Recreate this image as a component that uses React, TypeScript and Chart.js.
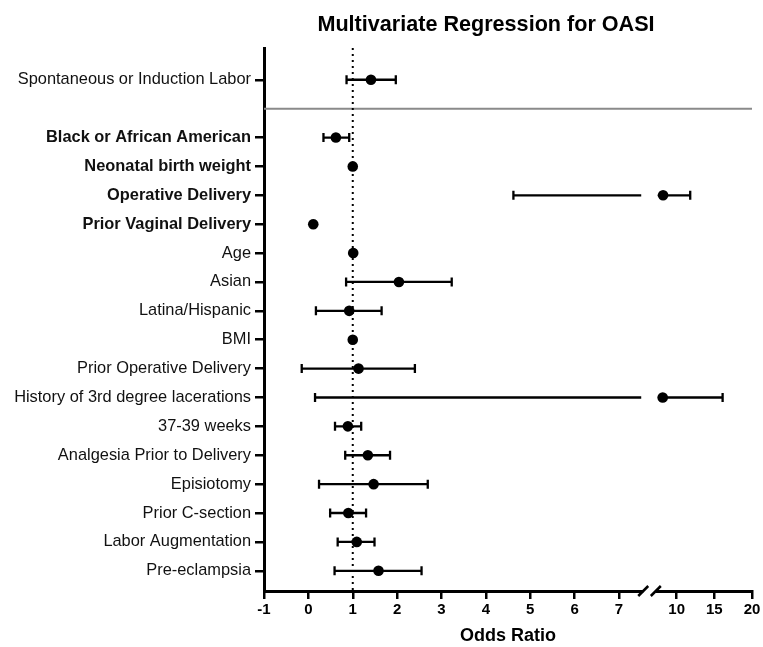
import React, { useEffect, useRef } from 'react';
import { Chart, registerables, LinearScale } from 'chart.js';

Chart.register(...registerables);

const FONT = "'Liberation Sans', Arial, Helvetica, sans-serif";

// ---------- data ----------
const ROW_LABELS = [
  'Spontaneous or Induction Labor',
  'Black or African American',
  'Neonatal birth weight',
  'Operative Delivery',
  'Prior Vaginal Delivery',
  'Age',
  'Asian',
  'Latina/Hispanic',
  'BMI',
  'Prior Operative Delivery',
  'History of 3rd degree lacerations',
  '37-39 weeks',
  'Analgesia Prior to Delivery',
  'Episiotomy',
  'Prior C-section',
  'Labor Augmentation',
  'Pre-eclampsia',
];
const ROW_POS = [0, 2, 3, 4, 5, 6, 7, 8, 9, 10, 11, 12, 13, 14, 15, 16, 17];
const BOLD_LABELS = [
  'Black or African American',
  'Neonatal birth weight',
  'Operative Delivery',
  'Prior Vaginal Delivery',
];
const ODDS_RATIO = [1.41, 0.62, 1.0, 8.2, 0.11, 1.01, 2.04, 0.92, 1.0, 1.13, 8.15, 0.89, 1.34, 1.47, 0.9, 1.09, 1.58];
const CI_LOWER = [0.86, 0.34, 0.98, 4.62, 0.08, 0.99, 0.85, 0.17, 0.98, -0.15, 0.15, 0.6, 0.83, 0.24, 0.49, 0.66, 0.59];
const CI_UPPER = [1.97, 0.92, 1.02, 11.8, 0.14, 1.03, 3.23, 1.65, 1.02, 2.4, 16.1, 1.19, 1.84, 2.69, 1.3, 1.49, 2.55];
const X_TICKS = [-1, 0, 1, 2, 3, 4, 5, 6, 7, 10, 15, 20];
const X_MIN = -1;
const X_MAX = 20;
const X_BREAK = 7.5;
const REFERENCE_OR = 1;
const SEPARATOR_POS = 1;
const TITLE = 'Multivariate Regression for OASI';
const X_TITLE = 'Odds Ratio';

// fraction of axis width where first segment ends / second begins
const BREAK_START_FRAC = 0.773;
const BREAK_END_FRAC = 0.807;

class BrokenLinearScale extends LinearScale {
  static id = 'brokenLinear';
  static defaults = LinearScale.defaults;

  buildTicks() {
    return X_TICKS.map((v) => ({ value: v }));
  }

  breakPixels(): [number, number] {
    const w = this.right - this.left;
    return [this.left + BREAK_START_FRAC * w, this.left + BREAK_END_FRAC * w];
  }

  getPixelForValue(value: number) {
    const [p1, p2] = this.breakPixels();
    if (value <= X_BREAK) {
      return this.left + ((value - X_MIN) / (X_BREAK - X_MIN)) * (p1 - this.left);
    }
    return p2 + ((value - X_BREAK) / (X_MAX - X_BREAK)) * (this.right - p2);
  }

  getValueForPixel(pixel: number) {
    const [p1, p2] = this.breakPixels();
    if (pixel <= p1) return X_MIN + ((pixel - this.left) / (p1 - this.left)) * (X_BREAK - X_MIN);
    if (pixel < p2) return X_BREAK;
    return X_BREAK + ((pixel - p2) / (this.right - p2)) * (X_MAX - X_BREAK);
  }
}
Chart.register(BrokenLinearScale as any);

const forestPlugin = {
  id: 'forestPlugin',
  beforeDatasetsDraw(chart: any) {
    const { ctx, chartArea } = chart;
    const x = chart.scales.x;
    const y = chart.scales.y;
    ctx.save();
    // separator line
    const ys = y.getPixelForValue(SEPARATOR_POS);
    ctx.strokeStyle = '#8a8a8a';
    ctx.lineWidth = 2;
    ctx.beginPath();
    ctx.moveTo(chartArea.left, ys);
    ctx.lineTo(chartArea.right, ys);
    ctx.stroke();

    // dotted reference line
    const xr = x.getPixelForValue(REFERENCE_OR);
    ctx.strokeStyle = '#000';
    ctx.lineWidth = 2;
    ctx.setLineDash([2, 4]);
    ctx.beginPath();
    ctx.moveTo(xr, chartArea.top);
    ctx.lineTo(xr, chartArea.bottom);
    ctx.stroke();
    ctx.setLineDash([]);

    // error bars
    const [p1, p2] = x.breakPixels();
    ctx.strokeStyle = '#000';
    ctx.lineWidth = 2.3;
    ROW_POS.forEach((pos, i) => {
      const py = y.getPixelForValue(pos);
      const lo = x.getPixelForValue(CI_LOWER[i]);
      const hi = x.getPixelForValue(CI_UPPER[i]);
      ctx.beginPath();
      if (CI_LOWER[i] < X_BREAK && CI_UPPER[i] > X_BREAK) {
        ctx.moveTo(lo, py);
        ctx.lineTo(p1, py);
        ctx.moveTo(p2, py);
        ctx.lineTo(hi, py);
      } else {
        ctx.moveTo(lo, py);
        ctx.lineTo(hi, py);
      }
      ctx.moveTo(lo, py - 4.5);
      ctx.lineTo(lo, py + 4.5);
      ctx.moveTo(hi, py - 4.5);
      ctx.lineTo(hi, py + 4.5);
      ctx.stroke();
    });
    ctx.restore();
  },
  afterDraw(chart: any) {
    const { ctx, chartArea } = chart;
    const x = chart.scales.x;
    const [p1, p2] = x.breakPixels();
    const ay = chartArea.bottom;
    ctx.save();
    const c1 = p1 + 2;
    const c2 = p2 - 2;
    ctx.fillStyle = '#fff';
    ctx.fillRect(c1, ay - 3, c2 - c1, 6);
    ctx.strokeStyle = '#000';
    ctx.lineWidth = 2.5;
    ctx.beginPath();
    ctx.moveTo(c1 - 5, ay + 5);
    ctx.lineTo(c1 + 5, ay - 5);
    ctx.moveTo(c2 - 5, ay + 5);
    ctx.lineTo(c2 + 5, ay - 5);
    ctx.stroke();

    // title
    ctx.fillStyle = '#000';
    ctx.font = `bold 21.6px ${FONT}`;
    ctx.textAlign = 'center';
    ctx.textBaseline = 'middle';
    ctx.fillText(TITLE, 486, 25);
    ctx.restore();
  },
};

export default function App() {
  const ref = useRef<HTMLCanvasElement | null>(null);

  useEffect(() => {
    if (!ref.current) return;
    const labelAt = (v: number) => {
      const i = ROW_POS.indexOf(v);
      return i >= 0 ? ROW_LABELS[i] : '';
    };
    const chart = new Chart(ref.current, {
      type: 'scatter',
      data: {
        datasets: [
          {
            data: ODDS_RATIO.map((v, i) => ({ x: v, y: ROW_POS[i] })),
            pointRadius: 5.3,
            pointHoverRadius: 5.3,
            pointBackgroundColor: '#000',
            pointBorderWidth: 0,
            borderColor: '#000',
          },
        ],
      },
      options: {
        responsive: false,
        animation: false,
        events: [],
        layout: { padding: { top: 48, right: 11, left: 0, bottom: 0 } },
        plugins: {
          legend: { display: false },
          tooltip: { enabled: false },
          title: { display: false },
        },
        scales: {
          x: {
            type: 'brokenLinear' as any,
            min: X_MIN,
            max: X_MAX,
            grid: {
              display: true,
              drawOnChartArea: false,
              drawTicks: true,
              tickLength: 8,
              lineWidth: 2.5,
              color: '#000',
            },
            border: { display: true, color: '#000', width: 3 },
            ticks: {
              autoSkip: false,
              maxRotation: 0,
              padding: 2,
              color: '#000',
              font: { family: FONT, size: 15, weight: 'bold' },
              callback: (v: any) => String(v),
            },
            title: {
              display: true,
              text: X_TITLE,
              color: '#000',
              font: { family: FONT, size: 18, weight: 'bold' },
              padding: { top: 4, bottom: 0 },
            },
            afterFit: (scale: any) => {
              scale.height = 56;
            },
          } as any,
          y: {
            type: 'linear',
            reverse: true,
            min: -1.1,
            max: 17.7,
            afterBuildTicks: (scale: any) => {
              scale.ticks = ROW_POS.map((v) => ({ value: v }));
            },
            grid: {
              display: true,
              drawOnChartArea: false,
              drawTicks: true,
              tickLength: 9,
              lineWidth: 2.5,
              color: '#000',
            },
            border: { display: true, color: '#000', width: 3 },
            ticks: {
              autoSkip: false,
              padding: 4,
              color: '#111',
              font: (ctx: any) => {
                const lbl = labelAt(ctx.tick ? ctx.tick.value : -99);
                return {
                  family: FONT,
                  size: 16.4,
                  weight: BOLD_LABELS.includes(lbl) ? 'bold' : 'normal',
                };
              },
              callback: (v: any) => labelAt(Number(v)),
            },
            afterFit: (scale: any) => {
              scale.width = 264;
            },
          },
        },
      },
      plugins: [forestPlugin],
    });
    return () => chart.destroy();
  }, []);

  return (
    <div style={{ position: 'absolute', left: 0, top: 0, width: 763, height: 647, background: '#fff' }}>
      <canvas ref={ref} width={763} height={647} style={{ display: 'block' }} />
    </div>
  );
}
